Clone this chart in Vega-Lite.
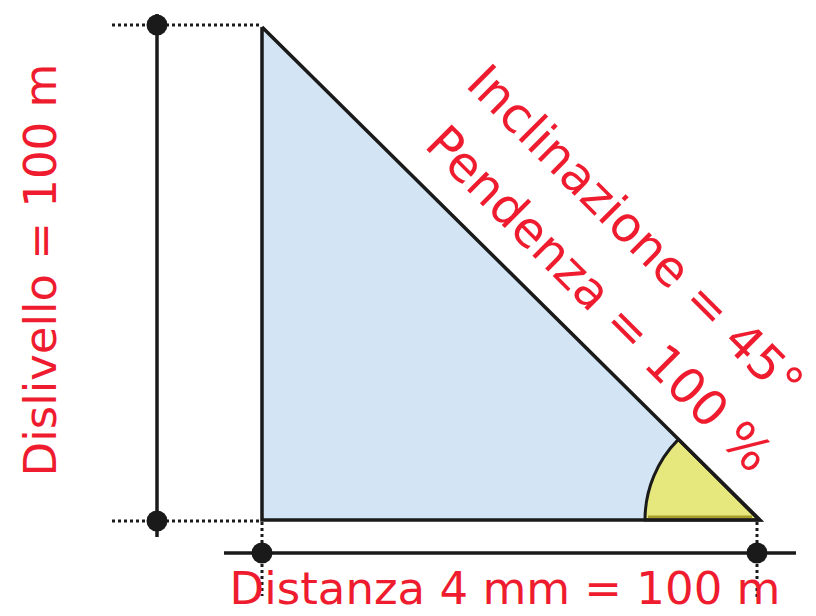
{
  "$schema": "https://vega.github.io/schema/vega-lite/v6.json",
  "width": 816,
  "height": 616,
  "autosize": {"type": "none"},
  "padding": 0,
  "background": "white",
  "config": {"view": {"stroke": null}},
  "datasets": {
    "fill": [
      {"x": 262, "top": 27, "base": 520},
      {"x": 760, "top": 520, "base": 520}
    ],
    "edge": [
      {"i": 0, "x": 262, "y": 27},
      {"i": 1, "x": 262, "y": 520},
      {"i": 2, "x": 760, "y": 520},
      {"i": 3, "x": 262, "y": 27}
    ],
    "corner": [{"x": 759, "y": 520}],
    "band": [{"x": 648, "x2": 752, "y": 517, "y2": 517}],
    "solid": [
      {"x": 157, "x2": 157, "y": 14, "y2": 537},
      {"x": 224, "x2": 796, "y": 553, "y2": 553}
    ],
    "dotted": [
      {"x": 112, "x2": 262, "y": 25, "y2": 25},
      {"x": 112, "x2": 262, "y": 521, "y2": 521},
      {"x": 262, "x2": 262, "y": 522, "y2": 596},
      {"x": 757, "x2": 757, "y": 522, "y2": 600}
    ],
    "dots": [
      {"x": 157, "y": 25},
      {"x": 157, "y": 521},
      {"x": 262, "y": 553},
      {"x": 757, "y": 553}
    ],
    "bottom": [{"x": 505, "y": 590, "t": "Distanza 4 mm = 100 m"}],
    "left": [{"x": 42, "y": 270, "t": "Dislivello = 100 m"}],
    "diag": [
      {"x": 634, "y": 234, "t": "Inclinazione = 45°"},
      {"x": 598, "y": 300, "t": "Pendenza = 100 %"}
    ]
  },
  "layer": [
    {
      "data": {"name": "fill"},
      "mark": {"type": "area", "color": "#d3e5f5", "opacity": 1},
      "encoding": {
        "x": {"field": "x", "type": "quantitative", "scale": {"domain": [0, 816]}, "axis": null},
        "y": {"field": "top", "type": "quantitative", "scale": {"domain": [0, 616], "reverse": true}, "axis": null},
        "y2": {"field": "base"}
      }
    },
    {
      "data": {"name": "corner"},
      "mark": {"type": "arc", "theta": -1.5708, "theta2": -0.7854, "outerRadius": 114, "innerRadius": 0, "fill": "#e6e77c", "stroke": "#1a1a1a", "strokeWidth": 3},
      "encoding": {
        "x": {"field": "x", "type": "quantitative", "scale": {"domain": [0, 816]}, "axis": null},
        "y": {"field": "y", "type": "quantitative", "scale": {"domain": [0, 616], "reverse": true}, "axis": null}
      }
    },
    {
      "data": {"name": "band"},
      "mark": {"type": "rule", "color": "#a59e2a", "strokeWidth": 3},
      "encoding": {
        "x": {"field": "x", "type": "quantitative", "scale": {"domain": [0, 816]}, "axis": null},
        "x2": {"field": "x2"},
        "y": {"field": "y", "type": "quantitative", "scale": {"domain": [0, 616], "reverse": true}, "axis": null},
        "y2": {"field": "y2"}
      }
    },
    {
      "data": {"name": "edge"},
      "mark": {"type": "line", "color": "#1a1a1a", "strokeWidth": 3.5, "strokeJoin": "miter"},
      "encoding": {
        "x": {"field": "x", "type": "quantitative", "scale": {"domain": [0, 816]}, "axis": null},
        "y": {"field": "y", "type": "quantitative", "scale": {"domain": [0, 616], "reverse": true}, "axis": null},
        "order": {"field": "i", "type": "quantitative"}
      }
    },
    {
      "data": {"name": "solid"},
      "mark": {"type": "rule", "color": "#1a1a1a", "strokeWidth": 3.5},
      "encoding": {
        "x": {"field": "x", "type": "quantitative", "scale": {"domain": [0, 816]}, "axis": null},
        "x2": {"field": "x2"},
        "y": {"field": "y", "type": "quantitative", "scale": {"domain": [0, 616], "reverse": true}, "axis": null},
        "y2": {"field": "y2"}
      }
    },
    {
      "data": {"name": "dotted"},
      "mark": {"type": "rule", "color": "#1a1a1a", "strokeWidth": 3, "strokeDash": [3, 3]},
      "encoding": {
        "x": {"field": "x", "type": "quantitative", "scale": {"domain": [0, 816]}, "axis": null},
        "x2": {"field": "x2"},
        "y": {"field": "y", "type": "quantitative", "scale": {"domain": [0, 616], "reverse": true}, "axis": null},
        "y2": {"field": "y2"}
      }
    },
    {
      "data": {"name": "dots"},
      "mark": {"type": "circle", "color": "#1a1a1a", "opacity": 1, "size": 440},
      "encoding": {
        "x": {"field": "x", "type": "quantitative", "scale": {"domain": [0, 816]}, "axis": null},
        "y": {"field": "y", "type": "quantitative", "scale": {"domain": [0, 616], "reverse": true}, "axis": null}
      }
    },
    {
      "data": {"name": "bottom"},
      "mark": {"type": "text", "color": "#ee1c2e", "font": "DejaVu Sans", "fontSize": 45, "align": "center", "baseline": "middle"},
      "encoding": {
        "x": {"field": "x", "type": "quantitative", "scale": {"domain": [0, 816]}, "axis": null},
        "y": {"field": "y", "type": "quantitative", "scale": {"domain": [0, 616], "reverse": true}, "axis": null},
        "text": {"field": "t"}
      }
    },
    {
      "data": {"name": "left"},
      "mark": {"type": "text", "color": "#ee1c2e", "font": "DejaVu Sans", "fontSize": 45, "align": "center", "baseline": "middle", "angle": -90},
      "encoding": {
        "x": {"field": "x", "type": "quantitative", "scale": {"domain": [0, 816]}, "axis": null},
        "y": {"field": "y", "type": "quantitative", "scale": {"domain": [0, 616], "reverse": true}, "axis": null},
        "text": {"field": "t"}
      }
    },
    {
      "data": {"name": "diag"},
      "mark": {"type": "text", "color": "#ee1c2e", "font": "DejaVu Sans", "fontSize": 49, "align": "center", "baseline": "middle", "angle": 45},
      "encoding": {
        "x": {"field": "x", "type": "quantitative", "scale": {"domain": [0, 816]}, "axis": null},
        "y": {"field": "y", "type": "quantitative", "scale": {"domain": [0, 616], "reverse": true}, "axis": null},
        "text": {"field": "t"}
      }
    }
  ]
}
